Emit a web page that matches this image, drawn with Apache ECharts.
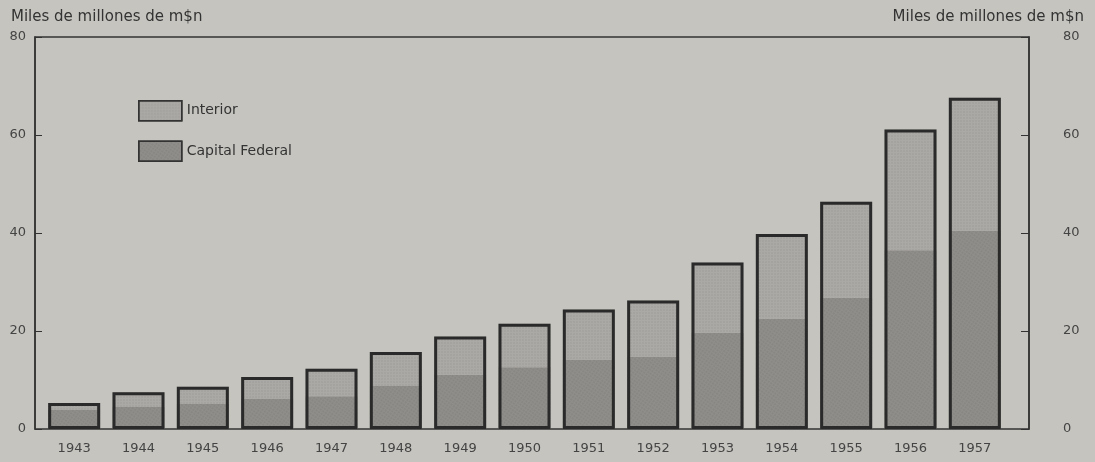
<!DOCTYPE html>
<html><head><meta charset="utf-8">
<script src="https://cdn.jsdelivr.net/npm/echarts@6/dist/echarts.min.js"></script>
<style>html,body{margin:0;padding:0;background:#c5c4bf}#c{width:1095px;height:462px}</style>
</head><body><div id="c"></div>
<script>
const years = ['1943','1944','1945','1946','1947','1948','1949','1950','1951','1952','1953','1954','1955','1956','1957'];
const capitalFederal = [4.0, 4.5, 5.1, 6.2, 6.7, 8.8, 11.0, 12.6, 14.1, 14.7, 19.6, 22.5, 26.8, 36.5, 40.4];
const interior = [1.3, 3.0, 3.5, 4.4, 5.6, 6.9, 7.9, 8.9, 10.3, 11.5, 14.4, 17.3, 19.6, 24.6, 27.2];
const yTicks = [0, 20, 40, 60, 80];
const unitLabel = 'Miles de millones de m$n';

const totals = years.map((_, i) => +(capitalFederal[i] + interior[i]).toFixed(1));
const font = 'DejaVu Sans';
const chart = echarts.init(document.getElementById('c'));
const yBase = {
  min: yTicks[0], max: yTicks[yTicks.length - 1], interval: 20,
  splitLine: {show: false}
};
chart.setOption({
  backgroundColor: '#c5c4bf',
  animation: false,
  title: [
    {text: unitLabel, left: 6, top: 5, textStyle: {fontFamily: font, fontSize: 15, fontWeight: 'normal', color: '#333'}},
    {text: unitLabel, right: 6, top: 5, textStyle: {fontFamily: font, fontSize: 15, fontWeight: 'normal', color: '#333'}}
  ],
  legend: {
    data: ['Interior', 'Capital Federal'],
    orient: 'vertical', left: 133, top: 95,
    icon: 'rect',
    itemWidth: 43, itemHeight: 20, itemGap: 19,
    textStyle: {fontFamily: font, fontSize: 14, color: '#333', padding: [4, 0, 0, 0]},
    itemStyle: {borderColor: '#333', borderWidth: 1.5}
  },
  grid: [
    {left: 35, right: 66, top: 37, bottom: 33, show: true, borderColor: '#333', borderWidth: 1.5, backgroundColor: 'transparent'},
    {left: 42, right: 88, top: 37, bottom: 33}
  ],
  xAxis: [
    {gridIndex: 0, type: 'category', data: years, show: false},
    {gridIndex: 1, type: 'category', data: years,
     axisLine: {show: false}, axisTick: {show: false},
     axisLabel: {margin: 13, fontFamily: font, fontSize: 13, color: '#444'}}
  ],
  yAxis: [
    Object.assign({}, yBase, {gridIndex: 0, position: 'left',
      axisLine: {show: true, lineStyle: {color: '#333', width: 1.5}},
      axisTick: {show: true, inside: true, length: 7, lineStyle: {color: '#333'}},
      axisLabel: {margin: 9, fontFamily: font, fontSize: 13, color: '#444'}}),
    Object.assign({}, yBase, {gridIndex: 0, position: 'right',
      axisLine: {show: true, lineStyle: {color: '#333', width: 1.5}},
      axisTick: {show: true, inside: true, length: 8, lineStyle: {color: '#333'}},
      axisLabel: {margin: 34, fontFamily: font, fontSize: 13, color: '#444'}}),
    Object.assign({}, yBase, {gridIndex: 1, show: false})
  ],
  series: [
    {name: 'Capital Federal', type: 'bar', stack: 'tot', xAxisIndex: 1, yAxisIndex: 2,
     data: capitalFederal, barWidth: 52,
     itemStyle: {color: '#8f8e8a',
       decal: {symbol: 'rect', symbolSize: 0.6, dashArrayX: [2, 1], dashArrayY: [2, 1], color: 'rgba(60,60,60,0.25)', rotation: 0.6}}},
    {name: 'Interior', type: 'bar', stack: 'tot', xAxisIndex: 1, yAxisIndex: 2,
     data: interior, barWidth: 52,
     itemStyle: {color: '#aaa9a5',
       decal: {symbol: 'rect', symbolSize: 0.6, dashArrayX: [2, 1], dashArrayY: [2, 1], color: 'rgba(80,80,80,0.2)'}}},
    {name: 'total', type: 'bar', xAxisIndex: 1, yAxisIndex: 2, data: totals, barWidth: 52, barGap: '-100%', z: 5,
     silent: true,
     itemStyle: {color: 'transparent', borderColor: '#2a2a2a', borderWidth: 3}}
  ]
});
</script></body></html>
